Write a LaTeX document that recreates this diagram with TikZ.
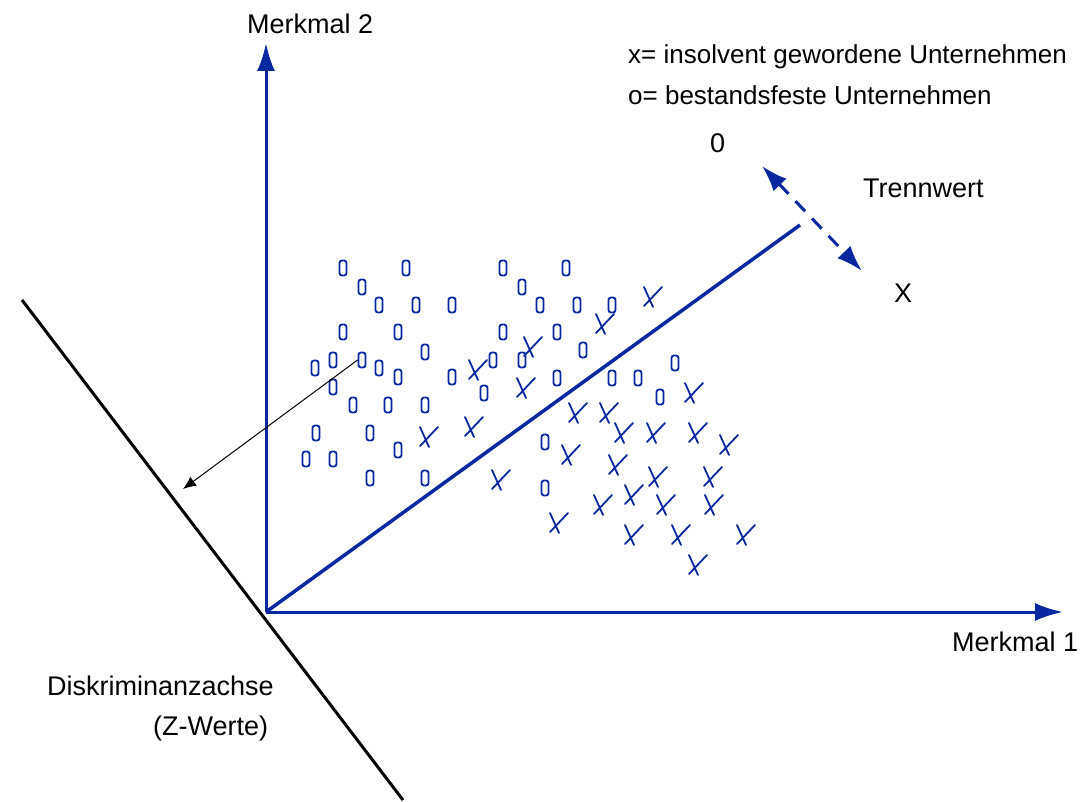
\documentclass[tikz,border=0pt]{standalone}
\usepackage{fontspec}
\setmainfont{Liberation Sans}
\usetikzlibrary{arrows.meta}
\definecolor{dblue}{RGB}{8,40,160}
\begin{document}
\begin{tikzpicture}[x=1pt,y=-1pt,
  lbl/.style={font=\fontsize{27}{32}\selectfont, inner sep=0pt, anchor=base west},
  leg/.style={font=\fontsize{26}{31}\selectfont, inner sep=0pt, anchor=base west},
  axisline/.style={draw=dblue, line width=3pt, -{Latex[length=28pt,width=18pt]}},
  omark/.style={draw=dblue, line width=1.8pt, rounded corners=2.5pt, minimum width=7pt, minimum height=15pt, inner sep=0pt},
  xmark/.pic={\draw[dblue, line width=1.8pt, line cap=round] (-8,-10) -- (1,10) (-8,9) -- (10,-10);}
]
\useasboundingbox (0,0) rectangle (1082,802);
\fill[white] (0,0) rectangle (1082,802);

% coordinates
\coordinate (O) at (266,612);
\coordinate (Ytip) at (266,43);
\coordinate (Xtip) at (1063,612);
\coordinate (Dend) at (800,225);
\coordinate (Ttop) at (762,166);
\coordinate (Tbot) at (862,271);
\coordinate (Ka) at (22,300);
\coordinate (Kb) at (403,800);
\coordinate (Ptip) at (183,489);

% discriminant axis
\draw[black, line width=3pt] (Ka) -- (Kb);

% axes
\draw[axisline] (O) -- (Ytip);
\draw[axisline] (O) -- (Xtip);

% discriminant direction
\draw[dblue, line width=3.5pt] (O) -- (Dend);

% Trennwert dashed double arrow
\draw[dblue, line width=3pt, dash pattern=on 14pt off 10pt,
  {Latex[length=26pt,width=18pt]}-{Latex[length=26pt,width=18pt]}] (Ttop) -- (Tbot);

% o marks
\foreach \p [count=\i] in {(343,268),(406,268),(362,287),(379,305),(416,305),(452,305),
  (343,332),(398,332),(425,352),(333,360),(315,368),(379,368),(398,377),(452,377),
  (333,387),(353,405),(388,405),(425,405),(316,433),(370,433),(306,459),(333,459),
  (398,450),(370,478),(425,478),
  (503,268),(566,268),(522,287),(540,305),(577,305),(612,305),(503,332),(557,332),
  (583,350),(493,360),(522,360),(484,393),(557,378),(612,378),(638,378),(675,363),
  (660,397),(545,442),(545,488)}
  \node[omark] (o\i) at \p {};
\node[omark] (src) at (362,360) {};

% x marks
\foreach \p in {(428,437),(652,297),(604,324),(532,347),(477,370),(525,388),(693,393),
  (473,427),(577,413),(608,413),(623,433),(655,433),(697,433),(728,445),(570,455),
  (617,465),(657,477),(712,477),(500,480),(602,505),(633,495),(665,505),(713,505),
  (558,523),(633,535),(680,535),(745,535),(697,565)}
  \pic at \p {xmark};

% projection arrow
\draw[black, line width=1pt, -{Latex[length=13pt,width=11pt]}] (src.west) -- (Ptip);

% labels
\node[lbl] (m2) at (247,34) {Merkmal 2};
\node[leg] (l1) at (628,64) {x= insolvent gewordene Unternehmen};
\node[leg] (l2) at (628,105) {o= bestandsfeste Unternehmen};
\node[lbl] (zero) at (710,153) {0};
\node[lbl] (tw) at (863,198) {Trennwert};
\node[lbl] (xl) at (894,303) {X};
\node[lbl] (m1) at (952,651) {Merkmal 1};
\node[lbl] (da) at (47,695) {Diskriminanzachse};
\node[lbl] (zw) at (153,735) {(Z-Werte)};
\end{tikzpicture}
\end{document}
